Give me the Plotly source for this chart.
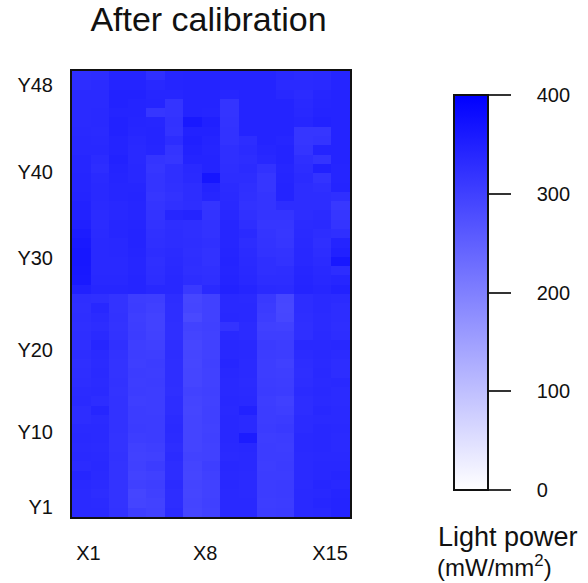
import plotly.graph_objects as go

# Column / row categories
x_labels_all = [f"X{i}" for i in range(1, 16)]
y_labels_all = [f"Y{i}" for i in range(1, 49)]

# Tick labels shown
x_tick_labels = ["X1", "X8", "X15"]
y_tick_labels = ["Y1", "Y10", "Y20", "Y30", "Y40", "Y48"]

# Colorbar ticks
cbar_ticks = [0, 100, 200, 300, 400]

# Light power (mW/mm^2), rows listed from Y48 (top) down to Y1 (bottom), columns X1..X15
rows_Y48_to_Y1 = [
    [328, 330, 342, 342, 326, 340, 342, 342, 342, 342, 342, 336, 332, 334, 342],  # Y48
    [330, 332, 344, 344, 338, 342, 344, 344, 344, 344, 344, 334, 334, 336, 342],  # Y47
    [334, 334, 346, 346, 340, 340, 344, 344, 340, 344, 344, 338, 332, 340, 344],  # Y46
    [334, 334, 346, 344, 342, 318, 344, 344, 318, 344, 344, 344, 336, 342, 344],  # Y45
    [334, 336, 344, 344, 316, 318, 344, 342, 318, 344, 344, 344, 338, 344, 344],  # Y44
    [334, 336, 346, 342, 340, 322, 360, 350, 320, 344, 344, 344, 340, 346, 344],  # Y43
    [336, 334, 346, 340, 342, 320, 346, 346, 322, 344, 344, 344, 316, 316, 344],  # Y42
    [338, 336, 344, 338, 342, 330, 350, 344, 322, 330, 344, 340, 316, 318, 344],  # Y41
    [338, 338, 344, 336, 340, 318, 346, 342, 326, 332, 340, 344, 318, 344, 344],  # Y40
    [340, 332, 346, 336, 318, 316, 344, 344, 326, 330, 338, 344, 326, 318, 344],  # Y39
    [340, 330, 344, 338, 316, 326, 336, 344, 328, 332, 322, 340, 330, 348, 342],  # Y38
    [342, 334, 342, 338, 318, 326, 334, 366, 330, 330, 316, 342, 332, 320, 342],  # Y37
    [342, 336, 340, 340, 318, 324, 330, 344, 332, 326, 316, 344, 330, 326, 344],  # Y36
    [344, 336, 340, 342, 316, 322, 330, 340, 334, 324, 318, 344, 330, 330, 326],  # Y35
    [346, 334, 338, 340, 318, 324, 328, 318, 336, 322, 318, 330, 330, 330, 312],  # Y34
    [346, 332, 338, 340, 320, 340, 344, 320, 338, 324, 318, 318, 330, 332, 316],  # Y33
    [350, 332, 340, 342, 322, 328, 326, 322, 340, 328, 316, 316, 332, 334, 318],  # Y32
    [356, 334, 340, 344, 324, 330, 326, 322, 340, 334, 318, 314, 334, 330, 326],  # Y31
    [360, 336, 338, 344, 326, 330, 328, 324, 340, 330, 320, 316, 336, 326, 344],  # Y30
    [364, 336, 338, 342, 330, 332, 326, 322, 342, 332, 322, 320, 338, 330, 348],  # Y29
    [364, 336, 336, 340, 326, 334, 328, 322, 344, 334, 326, 322, 338, 332, 362],  # Y28
    [362, 336, 336, 340, 328, 336, 326, 324, 342, 336, 326, 328, 340, 336, 330],  # Y27
    [360, 338, 338, 342, 330, 338, 330, 326, 344, 338, 330, 330, 342, 338, 340],  # Y26
    [348, 340, 340, 342, 338, 338, 310, 334, 346, 342, 334, 332, 344, 340, 346],  # Y25
    [328, 326, 320, 304, 302, 330, 290, 298, 336, 334, 310, 290, 330, 334, 332],  # Y24
    [326, 338, 320, 306, 300, 328, 292, 298, 336, 336, 308, 288, 330, 334, 330],  # Y23
    [328, 332, 322, 302, 296, 328, 286, 298, 338, 336, 304, 290, 328, 332, 330],  # Y22
    [326, 330, 320, 304, 296, 326, 296, 300, 320, 332, 300, 298, 326, 332, 328],  # Y21
    [328, 334, 322, 306, 298, 326, 294, 298, 336, 332, 302, 302, 326, 334, 330],  # Y20
    [326, 340, 324, 302, 300, 328, 290, 298, 338, 336, 308, 304, 336, 336, 338],  # Y19
    [330, 334, 322, 304, 302, 330, 292, 298, 338, 336, 306, 304, 332, 336, 332],  # Y18
    [326, 332, 320, 302, 306, 328, 290, 300, 340, 334, 304, 300, 330, 334, 330],  # Y17
    [328, 334, 320, 306, 304, 328, 292, 298, 338, 334, 304, 302, 328, 336, 330],  # Y16
    [330, 332, 322, 304, 306, 328, 292, 298, 336, 332, 306, 304, 330, 334, 336],  # Y15
    [332, 334, 320, 306, 304, 326, 296, 300, 336, 334, 308, 306, 332, 336, 332],  # Y14
    [334, 330, 322, 302, 304, 330, 294, 298, 338, 336, 304, 300, 330, 334, 332],  # Y13
    [330, 340, 322, 306, 304, 330, 292, 300, 336, 346, 306, 302, 330, 338, 334],  # Y12
    [330, 332, 322, 306, 306, 332, 294, 300, 338, 334, 306, 308, 332, 334, 334],  # Y11
    [334, 334, 322, 308, 306, 334, 294, 298, 338, 334, 308, 310, 332, 338, 336],  # Y10
    [336, 334, 320, 304, 306, 332, 294, 300, 338, 356, 304, 306, 336, 338, 334],  # Y9
    [334, 332, 320, 300, 302, 330, 294, 298, 336, 338, 306, 304, 336, 338, 334],  # Y8
    [336, 334, 322, 298, 300, 332, 296, 298, 334, 336, 306, 306, 334, 336, 336],  # Y7
    [332, 336, 320, 300, 306, 330, 294, 302, 338, 336, 304, 308, 334, 338, 338],  # Y6
    [340, 334, 320, 296, 300, 330, 292, 300, 336, 334, 306, 306, 334, 338, 340],  # Y5
    [336, 332, 320, 300, 302, 332, 294, 298, 338, 334, 306, 308, 334, 340, 338],  # Y4
    [334, 330, 320, 292, 300, 330, 292, 298, 336, 334, 306, 308, 336, 338, 342],  # Y3
    [334, 332, 320, 294, 296, 330, 294, 300, 336, 336, 304, 306, 336, 340, 344],  # Y2
    [334, 334, 322, 302, 298, 332, 292, 298, 336, 336, 306, 308, 336, 338, 344],  # Y1
]

z = rows_Y48_to_Y1[::-1]  # Y1 first
x_idx = list(range(1, len(x_labels_all) + 1))
y_idx = list(range(1, len(y_labels_all) + 1))

# label placement as in the reference (slightly offset from cell centres)
x_tick_pos = [1.39, 7.69, 14.42]
y_tick_pos = [1.61, 9.69, 18.48, 28.38, 37.67, 47.0]

W, H = 588, 583
ML, MR, MT, MB = 72, 238, 71, 66
PW, PH = W - ML - MR, H - MT - MB

fig = go.Figure(
    go.Heatmap(
        z=z,
        x=x_idx,
        y=y_idx,
        zmin=0,
        zmax=400,
        colorscale=[[0, "rgb(255,255,255)"], [1, "rgb(0,0,255)"]],
        colorbar=dict(
            lenmode="pixels",
            len=395,
            thickness=34,
            thicknessmode="pixels",
            x=(454 - ML) / PW,
            xref="paper",
            xanchor="left",
            xpad=0,
            y=(MT + PH - 292.5) / PH,
            yref="paper",
            yanchor="middle",
            ypad=0,
            outlinewidth=2,
            outlinecolor="#111",
            ticks="outside",
            ticklen=22,
            tickwidth=1.5,
            tickcolor="#333",
            tickvals=cbar_ticks,
            ticktext=["\u00a0\u00a0\u00a0\u00a0" + str(t) for t in cbar_ticks],
            tickfont=dict(family="Liberation Sans, Arial", size=20, color="#111"),
        ),
        hoverinfo="skip",
    )
)

fig.update_layout(
    width=W,
    height=H,
    margin=dict(l=ML, r=MR, t=MT, b=MB),
    paper_bgcolor="white",
    plot_bgcolor="white",
    font=dict(family="Liberation Sans, Arial", color="#111"),
    title=dict(
        text="After calibration",
        x=208.5 / W,
        xanchor="center",
        y=1 - 19 / H,
        yanchor="middle",
        font=dict(size=34, color="#111"),
    ),
    xaxis=dict(
        range=[0.5, 15.5],
        tickvals=x_tick_pos,
        ticktext=x_tick_labels,
        ticks="",
        ticklabelstandoff=17,
        tickfont=dict(size=20),
        showgrid=False,
        zeroline=False,
        showline=True,
        mirror=True,
        linecolor="#111",
        linewidth=2,
    ),
    yaxis=dict(
        range=[0.5, 48.5],
        tickvals=y_tick_pos,
        ticktext=y_tick_labels,
        ticks="",
        ticklabelstandoff=13,
        tickfont=dict(size=20),
        showgrid=False,
        zeroline=False,
        showline=True,
        mirror=True,
        linecolor="#111",
        linewidth=2,
    ),
    annotations=[
        dict(
            text="Light power",
            xref="paper", yref="paper",
            x=(436 - ML) / PW, xanchor="left",
            y=(MT + PH - 537) / PH, yanchor="middle",
            showarrow=False,
            font=dict(size=27, color="#111"),
        ),
        dict(
            text="(mW/mm<sup>2</sup>)",
            xref="paper", yref="paper",
            x=(435 - ML) / PW, xanchor="left",
            y=(MT + PH - 566) / PH, yanchor="middle",
            showarrow=False,
            font=dict(size=24, color="#111"),
        ),
    ],
)

fig.write_html(
    "out.html",
    config={"displayModeBar": False},
    post_script="document.body.style.margin='0px';",
)
